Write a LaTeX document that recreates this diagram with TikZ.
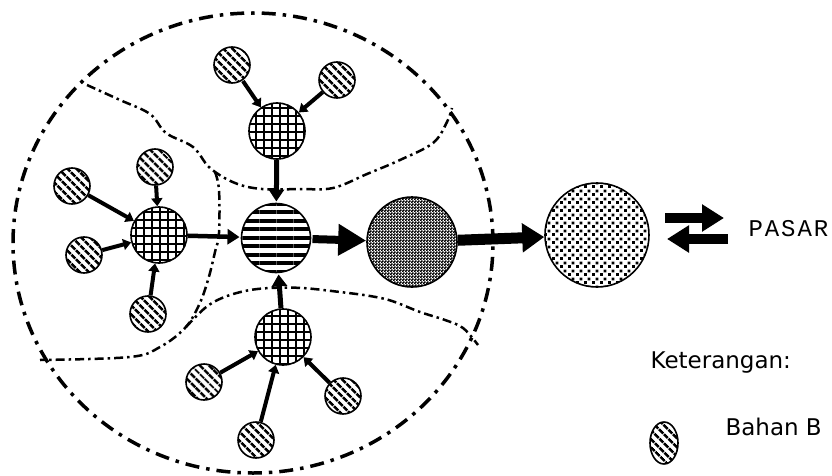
\documentclass[tikz,border=0pt]{standalone}
\usepackage{fontspec}
\setmainfont{DejaVu Sans}
\newfontfamily\pasarfont[LetterSpace=8]{Liberation Mono}
\usetikzlibrary{arrows.meta,patterns,patterns.meta,shapes.geometric}

\pgfdeclarepatternformonly{sparsedots}{\pgfpointorigin}{\pgfpoint{8pt}{8pt}}{\pgfpoint{8pt}{8pt}}{%
  \pgfpathrectangle{\pgfpoint{0pt}{0pt}}{\pgfpoint{3.2pt}{3.2pt}}%
  \pgfpathrectangle{\pgfpoint{4pt}{4pt}}{\pgfpoint{3.2pt}{3.2pt}}%
  \pgfusepath{fill}}
\pgfdeclarepatternformonly{densedots}{\pgfpointorigin}{\pgfpoint{3pt}{3pt}}{\pgfpoint{3pt}{3pt}}{%
  \pgfpathrectangle{\pgfpoint{0pt}{0pt}}{\pgfpoint{2pt}{2pt}}%
  \pgfpathrectangle{\pgfpoint{1.5pt}{1.5pt}}{\pgfpoint{2pt}{2pt}}%
  \pgfusepath{fill}}

\begin{document}
\begin{tikzpicture}[x=1pt,y=-1pt,
    raw/.style={circle,draw,line width=1.6pt,minimum size=36pt,inner sep=0pt,
                pattern={Lines[angle=-45,distance=6.5pt,line width=2.8pt]}},
    hub/.style={circle,draw,line width=1.6pt,minimum size=56pt,inner sep=0pt,
                pattern={Hatch[angle=0,distance=8pt,line width=1.4pt]}},
    rawarrow/.style={line width=4pt,-{Triangle[length=8pt,width=11pt]}},
    hubarrow/.style={line width=5pt,-{Triangle[length=12pt,width=15pt]}},
    boundary/.style={line width=2.5pt,dash pattern=on 9pt off 4pt on 2.5pt off 4pt},
    every node/.style={font=\fontsize{23}{26}\selectfont}]
\useasboundingbox (0,0) rectangle (832,476);
% wilayah
\draw[line width=3.5pt,dash pattern=on 14pt off 7pt on 3.5pt off 7pt]
  (253,243) ellipse [x radius=240pt,y radius=230pt];
\draw[boundary] plot[smooth,tension=0.6] coordinates {(87,85) (120,100) (150,114)
  (166,133) (193,147) (210,168) (235,183) (262,189) (300,189) (333,188)
  (367,174) (400,160) (433,143) (447,122) (452,108)};
\draw[boundary] plot[smooth,tension=0.6] coordinates {(215,172) (219,190) (219,233)
  (215,252) (208,280) (199,305) (185,328) (160,347) (130,357) (40,360)};
\draw[boundary] plot[smooth,tension=0.6] coordinates {(186,327) (205,308) (222,298)
  (245,291) (270,288) (302,288) (340,292) (370,296) (392,301) (420,312)
  (445,320) (463,328) (478,345)};

\node[circle,draw,line width=1.6pt,minimum size=69pt,inner sep=0pt,
      pattern={Lines[angle=0,distance=8.5pt,line width=4pt]}] (ctr) at (276,238) {};
\node[circle,draw,line width=1.6pt,minimum size=90pt,inner sep=0pt,
      pattern=densedots] (proc) at (412,242) {};
\node[circle,draw,line width=1.6pt,minimum size=104pt,inner sep=0pt,
      pattern=sparsedots] (dist) at (597,235) {};

\node[hub] (hubT) at (277,131) {};
\node[hub] (hubL) at (159,235) {};
\node[hub] (hubB) at (283,337) {};

\node[raw] (rawT1) at (232,65)  {};
\node[raw] (rawT2) at (337,80)  {};
\node[raw] (rawL1) at (72,186)  {};
\node[raw] (rawL2) at (155,167) {};
\node[raw] (rawL3) at (84,255)  {};
\node[raw] (rawL4) at (148,314) {};
\node[raw] (rawB1) at (204,382) {};
\node[raw] (rawB2) at (343,396) {};
\node[raw] (rawB3) at (256,440) {};

\draw[rawarrow] (rawT1) -- (hubT);
\draw[rawarrow] (rawT2) -- (hubT);
\draw[rawarrow] (rawL1) -- (hubL);
\draw[rawarrow] (rawL2) -- (hubL);
\draw[rawarrow] (rawL3) -- (hubL);
\draw[rawarrow] (rawL4) -- (hubL);
\draw[rawarrow] (rawB1) -- (hubB);
\draw[rawarrow] (rawB2) -- (hubB);
\draw[rawarrow] (rawB3) -- (hubB);

\draw[hubarrow] (hubT) -- (ctr);
\draw[hubarrow,line width=4.5pt] (hubL) -- (ctr);
\draw[hubarrow] (hubB) -- (ctr);
\draw[line width=8pt,-{Triangle[length=28pt,width=30pt]}] (ctr) -- (proc);
\draw[line width=11pt,-{Triangle[length=22pt,width=28pt]}] (proc) -- (dist);

% pasar
\node[anchor=west,font=\pasarfont\fontsize{24}{26}\selectfont] (pasar) at (745,229) {PASAR};
\coordinate (jualA) at (665,218);
\coordinate (jualB) at (724,218);
\coordinate (beliA) at (728,239);
\coordinate (beliB) at (667,239);
\draw[line width=10pt,-{Triangle[length=22pt,width=26pt]}] (jualA) -- (jualB);
\draw[line width=10pt,-{Triangle[length=22pt,width=26pt]}] (beliA) -- (beliB);

% keterangan
\node[anchor=west] (ket) at (647,363) {Keterangan:};
\node[ellipse,draw,line width=1.6pt,minimum width=28pt,minimum height=42pt,inner sep=0pt,
      pattern={Lines[angle=-45,distance=6.5pt,line width=2.8pt]}] (legRaw) at (664,443) {};
\node[anchor=west] (legRawTxt) at (722,427) {Bahan B};
\end{tikzpicture}
\end{document}
